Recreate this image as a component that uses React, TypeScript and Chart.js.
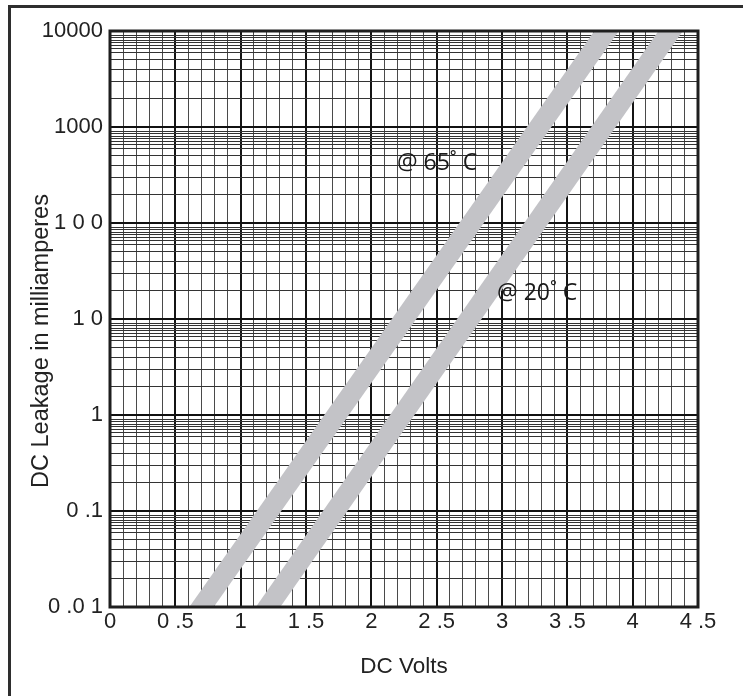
import React, { useEffect, useRef } from 'react';
import { Chart, registerables } from 'chart.js';

Chart.register(...registerables);

// ---- data ----
const xTickLabels = ['0', '0 .5', '1', '1 .5', '2', '2 .5', '3', '3 .5', '4', '4 .5'];
const yTickLabels = ['0 .0 1', '0 .1', '1', '1 0', '1 0 0', '1000', '10000'];
const yDecades = [0.01, 0.1, 1, 10, 100, 1000, 10000];
const yMinorMultipliers = [2, 3, 4, 5, 6, 6.5, 7, 7.5, 8, 8.5, 9];
const xMin = 0;
const xMax = 4.5;
const xMinorStep = 0.1;
const xMajorStep = 0.5;

// band centre lines (volts, milliamperes); ends run past the axes and are clipped
const band65Volts = [0.545, 3.956];
const band65Current = [0.005, 20000];
const band20Volts = [1.055, 4.445];
const band20Current = [0.005, 20000];

const noteTexts = ['@ 65˚ C', '@ 20˚ C'];
const noteVolts = [2.196, 2.962];
const noteCurrent = [356, 15.8];

const xTitle = 'DC Volts';
const yTitle = 'DC Leakage in milliamperes';

const FONT = "'Liberation Sans', Arial, Helvetica, sans-serif";
const NOTE_FONT = "'Open Sans', 'DejaVu Sans', sans-serif";
const BAND_COLOR = '#c3c3c7';

const overlay = {
  id: 'overlay',
  afterDraw(chart: any) {
    const { ctx, chartArea, scales } = chart;
    ctx.save();
    // notes
    ctx.fillStyle = '#1a1a1a';
    ctx.font = `23px ${NOTE_FONT}`;
    ctx.textAlign = 'left';
    ctx.textBaseline = 'alphabetic';
    noteTexts.forEach((t, i) => {
      ctx.fillText(t, scales.x.getPixelForValue(noteVolts[i]), scales.y.getPixelForValue(noteCurrent[i]));
    });
    // y title
    ctx.save();
    ctx.translate(chartArea.left - 68, (chartArea.top + chartArea.bottom) / 2 + 22);
    ctx.rotate(-Math.PI / 2);
    ctx.font = `23.5px ${FONT}`;
    ctx.fillStyle = '#222';
    ctx.textAlign = 'center';
    ctx.textBaseline = 'middle';
    ctx.fillText(yTitle, 0, 0);
    ctx.restore();
    // plot frame
    ctx.strokeStyle = '#1e1e1e';
    ctx.lineWidth = 3;
    ctx.strokeRect(chartArea.left, chartArea.top, chartArea.right - chartArea.left, chartArea.bottom - chartArea.top);
    ctx.restore();
  },
};

export default function App() {
  const ref = useRef<HTMLCanvasElement>(null);
  useEffect(() => {
    const canvas = ref.current!;
    const yTicks: number[] = [];
    yDecades.forEach((d, i) => {
      yTicks.push(d);
      if (i < yDecades.length - 1) yMinorMultipliers.forEach((m) => yTicks.push(d * m));
    });
    const xTicks: number[] = [];
    const nx = Math.round((xMax - xMin) / xMinorStep);
    for (let i = 0; i <= nx; i++) xTicks.push(+(xMin + i * xMinorStep).toFixed(3));
    const isDecade = (v: number) => Math.abs(Math.log10(v) - Math.round(Math.log10(v))) < 1e-6;
    const isXMajor = (v: number) => Math.abs(v / xMajorStep - Math.round(v / xMajorStep)) < 1e-6;

    const mk = (vx: number[], vy: number[], label: string) => ({
      label,
      data: vx.map((x, i) => ({ x, y: vy[i] })),
      borderColor: BAND_COLOR,
      backgroundColor: BAND_COLOR,
      borderWidth: 20,
      borderCapStyle: 'butt',
      pointRadius: 0,
      fill: false,
      tension: 0,
      clip: 0,
    });

    const chart = new Chart(canvas, {
      type: 'line',
      data: {
        datasets: [
          mk(band65Volts, band65Current, noteTexts[0]),
          mk(band20Volts, band20Current, noteTexts[1]),
        ] as any,
      },
      options: {
        responsive: false,
        animation: false,
        layout: { padding: { top: 31, right: 45, bottom: 0, left: 0 } },
        plugins: { legend: { display: false }, tooltip: { enabled: false } },
        scales: {
          x: {
            type: 'linear',
            min: xMin,
            max: xMax,
            z: 1,
            afterBuildTicks: (s: any) => {
              s.ticks = xTicks.map((v) => ({ value: v }));
            },
            afterFit: (s: any) => {
              s.height = 89;
            },
            grid: {
              color: (c: any) => (c.tick && isXMajor(c.tick.value) ? '#141414' : '#4a4a4a'),
              lineWidth: (c: any) => (c.tick && isXMajor(c.tick.value) ? 2 : 1),
              drawTicks: false,
            },
            border: { display: false },
            ticks: {
              autoSkip: false,
              maxRotation: 0,
              minRotation: 0,
              padding: 2,
              color: '#222',
              font: { family: FONT, size: 22 },
              callback: (v: any) => {
                const val = Number(v);
                return isXMajor(val) ? xTickLabels[Math.round(val / xMajorStep)] : '';
              },
            },
            title: {
              display: true,
              text: xTitle,
              color: '#222',
              font: { family: FONT, size: 22.5 },
              padding: { top: 0, bottom: 16 },
            },
          },
          y: {
            type: 'logarithmic',
            min: yDecades[0],
            max: yDecades[yDecades.length - 1],
            z: 1,
            afterBuildTicks: (s: any) => {
              s.ticks = yTicks.map((v) => ({ value: v }));
            },
            afterFit: (s: any) => {
              s.width = 110;
            },
            grid: {
              color: (c: any) => (c.tick && isDecade(c.tick.value) ? '#111' : '#333'),
              lineWidth: (c: any) => (c.tick && isDecade(c.tick.value) ? 2 : 1),
              drawTicks: false,
            },
            border: { display: false },
            ticks: {
              autoSkip: false,
              padding: 7,
              color: '#222',
              font: { family: FONT, size: 22 },
              callback: (v: any) => {
                const val = Number(v);
                return isDecade(val) ? yTickLabels[Math.round(Math.log10(val)) + 2] : '';
              },
            },
          },
        },
      },
      plugins: [overlay],
    } as any);
    return () => chart.destroy();
  }, []);

  return (
    <div style={{ position: 'absolute', left: 0, top: 0, width: 743, height: 696, overflow: 'hidden', background: '#fff' }}>
      <div
        style={{
          position: 'absolute',
          left: 8,
          top: 5,
          width: 900,
          height: 900,
          borderTop: '3px solid #2e2e2e',
          borderLeft: '3px solid #2e2e2e',
        }}
      />
      <canvas ref={ref} width={743} height={696} style={{ position: 'absolute', left: 0, top: 0, display: 'block' }} />
    </div>
  );
}
